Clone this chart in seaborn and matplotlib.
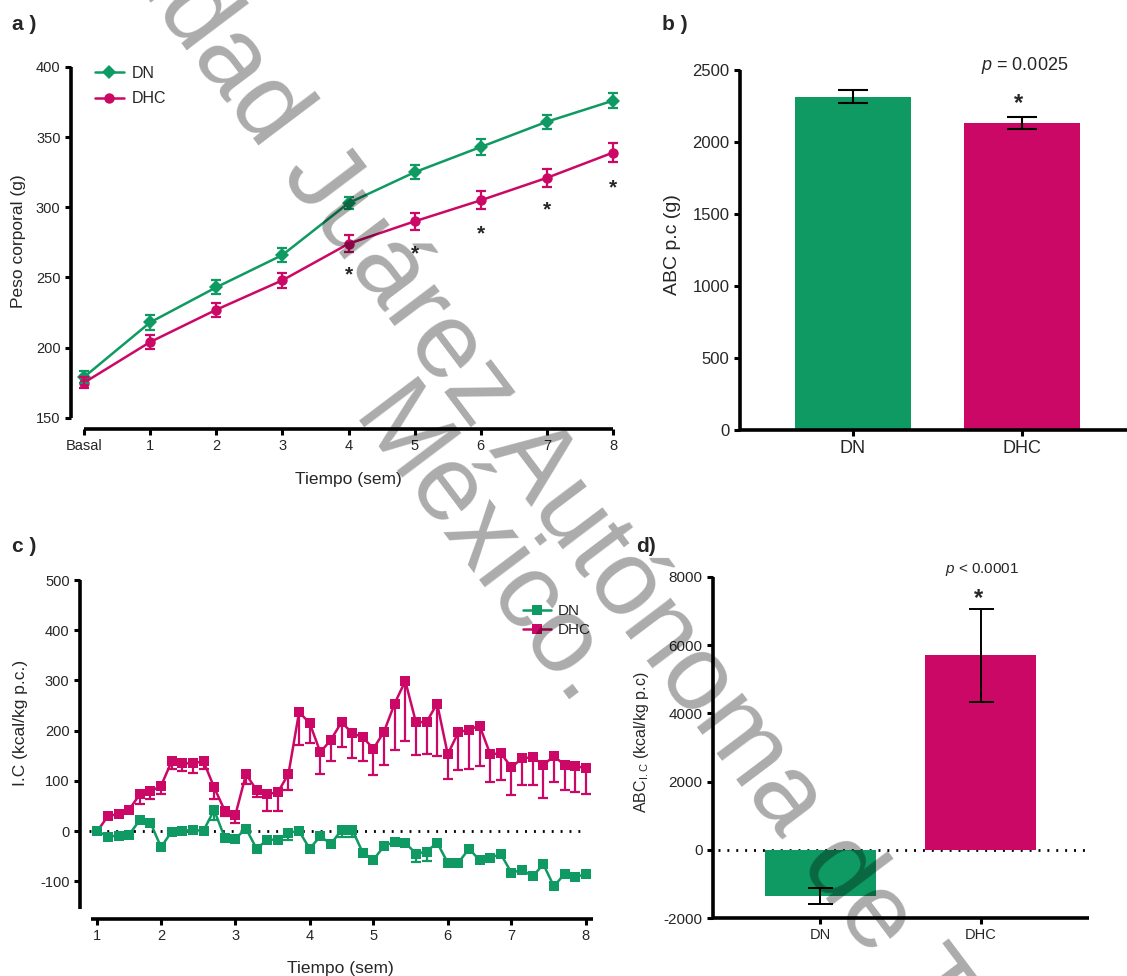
import numpy as np
import pandas as pd
import matplotlib
matplotlib.use("Agg")
import matplotlib.pyplot as plt
import seaborn as sns

# ---------------- data ----------------
groups = ["DN", "DHC"]

# a) body weight per week
weeks_a = ["Basal", "1", "2", "3", "4", "5", "6", "7", "8"]
dn_weight = [179, 218, 243, 266, 303, 325, 343, 361, 376]
dn_weight_sem = [4, 5.5, 5, 5, 4, 5, 6, 5, 5.5]
dhc_weight = [175, 204, 227, 248, 274, 290, 305, 321, 339]
dhc_weight_sem = [4, 5, 5, 5.5, 6, 6, 6.5, 6.5, 6.5]
weight_sig_weeks = ["4", "5", "6", "7", "8"]
weight_sig_y = [253, 268, 282, 299, 315]

# b) area under the body-weight curve
auc_weight = [2315, 2132]
auc_weight_sem = [45, 42]
auc_weight_p = "$p$ = 0.0025"

# c) caloric increment, one value per measurement
ic_dn = [0, -11, -9, -7, 22, 17, -32, -1, 1, 2, 1, 42, -13, -15, 5, -35,
         -17, -17, -3, 0, -35, -10, -26, 3, 3, -43, -57, -30, -21, -23, -45,
         -41, -23, -63, -63, -35, -58, -53, -46, -83, -77, -90, -66, -110,
         -85, -91, -86]
ic_dn_sem = [0, 5, 5, 5, 5, 5, 5, 5, 5, 5, 5, 20, 5, 5, 5, 5,
             5, 5, 14, 5, 5, 5, 5, 15, 15, 5, 5, 5, 5, 5, 16,
             18, 5, 5, 5, 5, 5, 5, 5, 5, 5, 5, 5, 5,
             5, 5, 5]
ic_dhc = [0, 30, 34, 43, 73, 79, 90, 139, 135, 135, 139, 87, 41, 32, 113, 82,
          74, 77, 114, 237, 215, 157, 182, 217, 195, 187, 164, 198, 254, 299,
          217, 217, 254, 153, 197, 202, 210, 153, 155, 127, 145, 147, 132,
          149, 132, 130, 125]
ic_dhc_sem = [0, 6, 6, 6, 20, 16, 16, 16, 16, 19, 16, 23, 10, 15, 19, 15,
              33, 36, 33, 65, 40, 43, 43, 50, 50, 48, 52, 67, 93, 120,
              65, 63, 104, 50, 76, 79, 81, 56, 54, 55, 53, 55, 67,
              52, 51, 53, 51]
ic_week_labels = ["1", "2", "3", "4", "5", "6", "7", "8"]
ic_week_first_index = [0, 6, 13, 20, 26, 33, 39, 46]

# d) area under the caloric-increment curve
auc_ic = [-1345, 5700]
auc_ic_sem = [230, 1360]
auc_ic_p = "$p$ < 0.0001"

# ---------------- style ----------------
GREEN = "#0e9a62"
MAGENTA = "#cc0866"
palette = {"DN": GREEN, "DHC": MAGENTA}

sns.set_style("ticks")
plt.rcParams["font.family"] = ["Liberation Sans", "DejaVu Sans"]
plt.rcParams["mathtext.fontset"] = "custom"
plt.rcParams["mathtext.rm"] = "Liberation Sans"
plt.rcParams["mathtext.it"] = "Liberation Sans:italic"
plt.rcParams["axes.unicode_minus"] = False

W, H = 1127, 976
fig = plt.figure(figsize=(W / 100, H / 100), dpi=100)
fig.patch.set_facecolor("white")


def axes_px(left, top, right, bottom):
    return fig.add_axes([left / W, 1 - bottom / H, (right - left) / W, (bottom - top) / H])


def style_axes(ax, labelsize):
    for side in ("top", "right"):
        ax.spines[side].set_visible(False)
    for side in ("left", "bottom"):
        ax.spines[side].set_linewidth(2.6)
        ax.spines[side].set_color("black")
        ax.spines[side].set_capstyle("butt")
    ax.tick_params(axis="both", length=4.5, width=2.2, color="black",
                   labelsize=labelsize, pad=3, direction="out")
    ax.set_facecolor("none")


def text_px(x, y, s, **kw):
    fig.text(x / W, 1 - y / H, s, **kw)


# ---------------- a) body weight ----------------
axa = axes_px(71, 67, 614, 429)
x_a = np.arange(len(weeks_a))
df_a = pd.DataFrame({
    "semana": np.concatenate([x_a, x_a]),
    "peso": dn_weight + dhc_weight,
    "grupo": ["DN"] * len(x_a) + ["DHC"] * len(x_a),
})
sns.lineplot(data=df_a, x="semana", y="peso", hue="grupo", style="grupo",
             hue_order=groups, style_order=groups, palette=palette,
             markers={"DN": "D", "DHC": "o"}, dashes=False, errorbar=None,
             linewidth=1.8, markersize=7.5, markeredgewidth=0, clip_on=False,
             ax=axa)
axa.errorbar(x_a, dn_weight, yerr=dn_weight_sem, fmt="none", ecolor=GREEN,
             elinewidth=1.6, capsize=3.5, capthick=1.6, clip_on=False)
axa.errorbar(x_a, dhc_weight, yerr=dhc_weight_sem, fmt="none", ecolor=MAGENTA,
             elinewidth=1.6, capsize=3.5, capthick=1.6, clip_on=False)
for wk, yv in zip(weight_sig_weeks, weight_sig_y):
    axa.annotate("*", xy=(weeks_a.index(wk), yv), xytext=(0, -7),
                 textcoords="offset pixels", ha="center", va="baseline",
                 fontsize=15, fontweight="bold")
style_axes(axa, 10.5)
axa.set_xlim(-0.197, 8.015)
axa.set_ylim(142, 400)
axa.set_xticks(x_a)
axa.set_xticklabels(weeks_a)
axa.set_yticks(np.arange(150, 401, 50))
axa.spines["left"].set_bounds(150, 400)
axa.spines["bottom"].set_bounds(0, 8)
axa.set_xlabel("Tiempo (sem)", fontsize=12.5)
axa.set_ylabel("Peso corporal (g)", fontsize=12.5)
axa.xaxis.set_label_coords(0.51, -0.12)
axa.yaxis.set_label_coords(-0.083, 0.52)
h, l = axa.get_legend_handles_labels()
axa.legend(h, l, loc="upper left", bbox_to_anchor=(95 / W, 1 - 66 / H),
           bbox_transform=fig.transFigure, frameon=False, fontsize=11.5,
           handlelength=1.8, handletextpad=0.5, borderpad=0, borderaxespad=0,
           labelspacing=0.65)

# ---------------- b) AUC body weight ----------------
axb = axes_px(740, 70, 1127, 430)
df_b = pd.DataFrame({"grupo": groups, "abc": auc_weight})
sns.barplot(data=df_b, x="grupo", y="abc", hue="grupo", palette=palette,
            order=groups, hue_order=groups, width=0.685, errorbar=None,
            saturation=1, legend=False, linewidth=0, ax=axb)
axb.errorbar(np.arange(len(groups)), auc_weight, yerr=auc_weight_sem, fmt="none",
             ecolor="black", elinewidth=1.5, capsize=11, capthick=1.5)
style_axes(axb, 12)
axb.set_xlim(-0.666, 1.62)
axb.set_ylim(0, 2500)
axb.set_yticks(np.arange(0, 2501, 500))
axb.tick_params(axis="x", labelsize=13)
axb.set_xlabel("")
axb.set_ylabel("ABC p.c (g)", fontsize=14)
axb.yaxis.set_label_coords(-0.152, 0.514)
text_px(1025, 65, auc_weight_p, ha="center", va="center", fontsize=13)
text_px(1019, 110, "*", ha="center", va="baseline", fontsize=17, fontweight="bold")

# ---------------- c) caloric increment ----------------
axc = axes_px(80, 580, 596, 919)
x_c = np.arange(len(ic_dn))
df_c = pd.DataFrame({
    "medicion": np.concatenate([x_c, x_c]),
    "ic": ic_dhc + ic_dn,
    "grupo": ["DHC"] * len(x_c) + ["DN"] * len(x_c),
})
axc.plot([-0.8, x_c[-1]], [0, 0], color="black", linewidth=2,
         dashes=(0.7, 2.5), zorder=0.5)
axc.errorbar(x_c, ic_dhc, yerr=[ic_dhc_sem, [0] * len(x_c)], fmt="none",
             ecolor=MAGENTA, elinewidth=1.6, capsize=3.6, capthick=1.6, zorder=1)
sns.lineplot(data=df_c, x="medicion", y="ic", hue="grupo", style="grupo",
             hue_order=["DHC", "DN"], style_order=["DHC", "DN"], palette=palette,
             markers={"DN": "s", "DHC": "s"}, dashes=False, errorbar=None,
             linewidth=1.8, markersize=7.8, markeredgewidth=0, ax=axc, zorder=2)
axc.errorbar(x_c, ic_dn, yerr=[ic_dn_sem, [0] * len(x_c)], fmt="none",
             ecolor=GREEN, elinewidth=1.6, capsize=3.6, capthick=1.6, zorder=1.5)
style_axes(axc, 10.5)
axc.set_xlim(-1.63, 46.96)
axc.set_ylim(-175, 500)
axc.set_yticks(np.arange(-100, 501, 100))
axc.set_xticks(ic_week_first_index)
axc.set_xticklabels(ic_week_labels)
axc.spines["left"].set_bounds(-155, 500)
axc.spines["bottom"].set_bounds(-0.62, 46.7)
axc.set_xlabel("Tiempo (sem)", fontsize=12.5)
axc.set_ylabel("I.C (kcal/kg p.c.)", fontsize=12.5)
axc.xaxis.set_label_coords(0.504, -0.124)
axc.yaxis.set_label_coords(-0.1, 0.578)
h, l = axc.get_legend_handles_labels()
order = [l.index(g) for g in groups]
axc.legend([h[i] for i in order], [l[i] for i in order], loc="upper left",
           bbox_to_anchor=(523 / W, 1 - 604 / H), bbox_transform=fig.transFigure,
           frameon=False, fontsize=11, handlelength=1.8, handletextpad=0.5,
           borderpad=0, borderaxespad=0, labelspacing=0.35)

# ---------------- d) AUC caloric increment ----------------
axd = axes_px(713, 577, 1089, 918)
df_d = pd.DataFrame({"grupo": groups, "abc": auc_ic})
axd.plot([-0.634, 1.646], [0, 0], color="black", linewidth=2,
         dashes=(0.7, 2.5), zorder=0.5)
sns.barplot(data=df_d, x="grupo", y="abc", hue="grupo", palette=palette,
            order=groups, hue_order=groups, width=0.69, errorbar=None,
            saturation=1, legend=False, linewidth=0, ax=axd, zorder=1)
axd.errorbar(np.arange(len(groups)), auc_ic, yerr=auc_ic_sem, fmt="none",
             ecolor="black", elinewidth=1.4, capsize=9, capthick=1.4, zorder=3)
style_axes(axd, 11)
axd.set_xlim(-0.666, 1.673)
axd.set_ylim(-2000, 8000)
axd.set_yticks(np.arange(-2000, 8001, 2000))
axd.tick_params(axis="x", labelsize=10.5)
axd.set_xlabel("")
axd.set_ylabel(r"ABC$_{\mathrm{I.C}}$ (kcal/kg p.c)", fontsize=11.5)
axd.yaxis.set_label_coords(-0.165, 0.516)
text_px(982, 569, auc_ic_p, ha="center", va="center", fontsize=11)
text_px(979, 605, "*", ha="center", va="baseline", fontsize=17, fontweight="bold")

# ---------------- panel letters ----------------
for s, x, y in [("a )", 12, 24), ("b )", 662, 24), ("c )", 12, 546), ("d)", 636, 546)]:
    text_px(x, y, s, ha="left", va="center", fontsize=15, fontweight="bold")

# ---------------- institutional watermark ----------------
fig.text(0.4609, 0.4654, "Universidad Juárez Autónoma de Tabasco.\nMéxico.",
         rotation=-53, rotation_mode="anchor", ha="center", va="center",
         multialignment="center", fontsize=77, color="black", alpha=0.33,
         linespacing=0.9, zorder=10)

fig.savefig("out.png", dpi=100, facecolor="white")
